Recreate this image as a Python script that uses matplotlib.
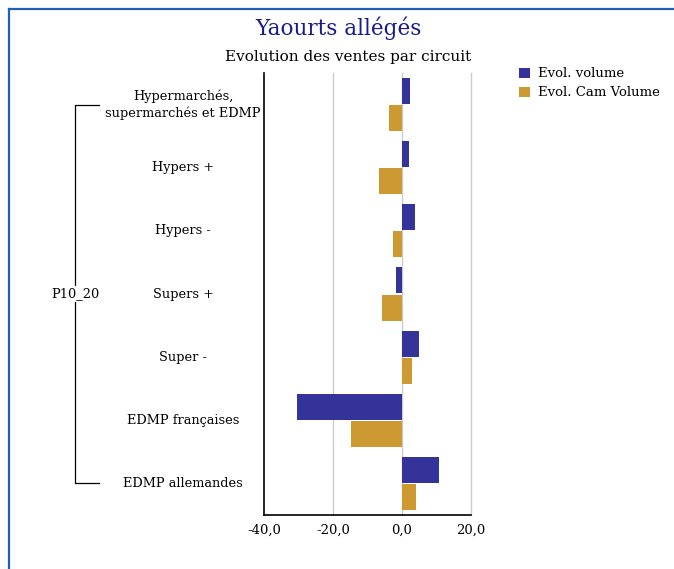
import matplotlib
matplotlib.use("Agg")
import matplotlib.pyplot as plt
from matplotlib.lines import Line2D
import numpy as np

# data
circuits = ["Hypermarchés,\nsupermarchés et EDMP", "Hypers +", "Hypers -",
            "Supers +", "Super -", "EDMP françaises", "EDMP allemandes"]
evol_volume = [2.2, 1.9, 3.7, -1.7, 4.8, -30.4, 10.6]
evol_cam_volume = [-3.7, -6.6, -2.6, -5.8, 2.8, -14.8, 4.0]
group_label = "P10_20"
xticks = [-40, -20, 0, 20]

blue = "#333399"
orange = "#CC9933"
W, H = 674, 569

plt.rcParams["font.family"] = ["DejaVu Serif"]

fig = plt.figure(figsize=(W / 100, H / 100), dpi=100)
ax = fig.add_axes([264 / W, 1 - 515 / H, 207 / W, 442 / H])

y = np.arange(len(circuits))
b1 = ax.barh(y - 0.215, evol_volume, height=0.41, color=blue, label="Evol. volume", zorder=3)
b2 = ax.barh(y + 0.215, evol_cam_volume, height=0.41, color=orange, label="Evol. Cam Volume", zorder=3)

ax.set_xlim(-40, 20)
ax.set_ylim(len(circuits) - 0.5, -0.5)
ax.set_xticks(xticks)
ax.set_xticklabels([f"{v:.1f}".replace(".", ",") for v in xticks], fontsize=9.5)
ax.set_yticks([])
ax.tick_params(axis="x", length=0, pad=6)
for v in xticks[1:]:
    ax.axvline(v, color="#cccccc", lw=1, zorder=1, clip_on=False)
ax.spines["top"].set_visible(False)
ax.spines["right"].set_visible(False)
ax.spines["left"].set_linewidth(1.2)
ax.spines["bottom"].set_linewidth(1.2)

# category labels, centred left of the axis
tr = ax.get_yaxis_transform()
lx = (183 - 264) / 207
for i, name in enumerate(circuits):
    ax.text(lx, i, name, transform=tr, ha="center", va="center",
            multialignment="center", fontsize=9.3, linespacing=1.3)

# group bracket
bx0 = (75 - 264) / 207
bx1 = (99 - 264) / 207
ax.plot([bx1, bx0, bx0, bx1], [0, 0, len(circuits) - 1, len(circuits) - 1],
        transform=tr, color="black", lw=0.9, clip_on=False)
ax.text(bx0, 3, group_label, transform=tr, ha="center", va="center", fontsize=9.3,
        bbox=dict(facecolor="white", edgecolor="none", pad=1))

fig.text(338 / W, 1 - 28 / H, "Yaourts allégés", ha="center", va="center",
         fontsize=15.5, color="#1a1a8c")
fig.text(348 / W, 1 - 57 / H, "Evolution des ventes par circuit", ha="center",
         va="center", fontsize=11)

fig.legend(handles=[b1, b2], loc="upper left", bbox_to_anchor=(514 / W, 1 - 62 / H),
           frameon=False, fontsize=9.5, handlelength=0.8, handleheight=0.8,
           handletextpad=0.6, labelspacing=0.45, borderaxespad=0)

# blue frame on top and left
fig.add_artist(Line2D([9 / W, 1], [1 - 9 / H, 1 - 9 / H], transform=fig.transFigure,
                      color="#2060b0", lw=1.6))
fig.add_artist(Line2D([9 / W, 9 / W], [0, 1 - 9 / H], transform=fig.transFigure,
                      color="#2060b0", lw=1.6))

fig.savefig("out.png", dpi=100)
